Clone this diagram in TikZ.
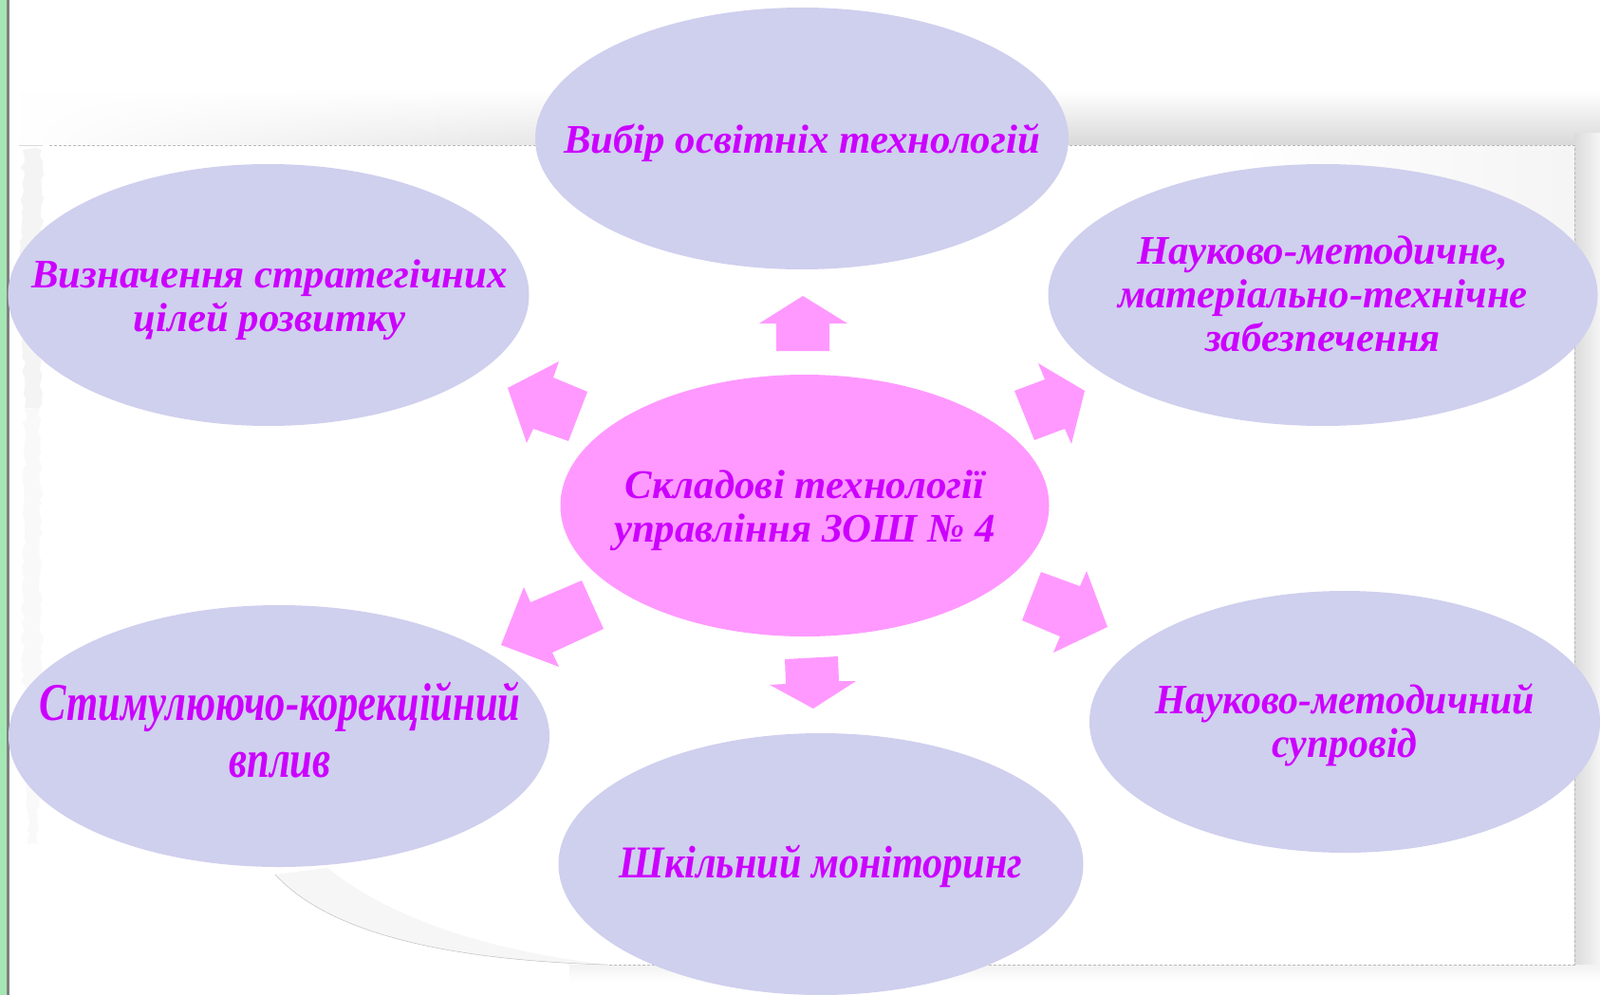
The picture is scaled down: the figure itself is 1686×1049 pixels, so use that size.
\documentclass[tikz,border=0pt]{standalone}
\usepackage{fontspec}
\setmainfont{Liberation Serif}
\newfontfamily\condA{Liberation Serif}[FakeStretch=0.76]
\newfontfamily\condB{Liberation Serif}[FakeStretch=0.88]
\newfontfamily\condC{Liberation Serif}[FakeStretch=0.95]
\usetikzlibrary{shapes.geometric,decorations.pathmorphing,fadings}
\definecolor{lav}{HTML}{CFCFEE}
\definecolor{pinkf}{HTML}{FF99FF}
\definecolor{txtc}{HTML}{CC00FF}
\definecolor{greenstrip}{HTML}{A6E6B4}
\definecolor{stripline}{HTML}{808080}
\begin{document}
\begin{tikzpicture}[x=1pt,y=-1pt,
  ell/.style={ellipse, fill=lav, draw=none, inner sep=0pt},
  ctr/.style={ellipse, fill=pinkf, draw=none, inner sep=0pt},
  lbl/.style={text=txtc, align=center, inner sep=0pt, anchor=base,
     font=\bfseries\itshape\fontsize{42.8}{46}\selectfont},
  barrow/.style={fill=pinkf, draw=none},
  paperedge/.style={draw=gray!55, line width=0.8pt, dash pattern=on 3pt off 2pt}]
\useasboundingbox (0,0) rectangle (1686,1049);
\fill[white] (0,0) rectangle (1686,1049);
% shadow of the sheet
\shade[top color=white, bottom color=gray!30] (20,95) rectangle (1686,153);
\fill[white, path fading=east] (20,95) rectangle (900,153);
\shade[left color=gray!28, right color=gray!8] (1659,140) rectangle (1686,1030);
\shade[top color=gray!10, bottom color=white] (600,1017) rectangle (1686,1035);
% sheet
\fill[white] (45,153) rectangle (1659,1017);
\shade[left color=white, right color=gray!8] (1300,153) rectangle (1659,260);
% torn left edge
\fill[gray!9, decorate, decoration={random steps, segment length=6pt, amplitude=2.5pt}]
  (24,158) -- (22,300) -- (26,430) -- (42,430) -- (46,300) -- (44,158) -- cycle;
\fill[gray!5, decorate, decoration={random steps, segment length=6pt, amplitude=2.5pt}]
  (26,430) -- (24,700) -- (30,890) -- (40,890) -- (44,700) -- (42,430) -- cycle;
% dashed sheet border
\draw[paperedge] (52,153) -- (1659,153) -- (1659,1017) -- (640,1017);
% curled corner
\fill[gray!7] (290,922) .. controls (345,982) and (465,1012) .. (640,1017)
   .. controls (530,1004) and (420,975) .. (345,915) -- cycle;
\draw[gray!50, line width=0.5pt] (290,922) .. controls (345,982) and (465,1012) .. (640,1017);
% left strip
\fill[greenstrip] (0,0) rectangle (7,1049);
\fill[stripline] (7,0) rectangle (10,1049);
% ellipses
\node[ell, minimum width=562pt, minimum height=276pt] (etop) at (845,146) {};
\node[ell, minimum width=549pt, minimum height=276pt] (eleft) at (283,311) {};
\node[ell, minimum width=579pt, minimum height=276pt] (eright) at (1394,311) {};
\node[ctr, minimum width=515pt, minimum height=276pt] (ecenter) at (848,533) {};
\node[ell, minimum width=570pt, minimum height=276pt] (elb) at (294,776) {};
\node[ell, minimum width=553pt, minimum height=276pt] (ebot) at (865,911) {};
\node[ell, minimum width=538pt, minimum height=276pt] (erb) at (1417,761) {};
% block arrows
\fill[barrow] (818,370) -- (818,341) -- (800,341) -- (846,312) -- (893,341) -- (874,341) -- (874,370) -- cycle;
\fill[barrow] (535,409) -- (589,381) -- (583,398) -- (619,413) -- (599,465) -- (562,452) -- (555,467) -- cycle;
\fill[barrow] (1143,412) -- (1129,468) -- (1122,452) -- (1090,464) -- (1069,412) -- (1101,400) -- (1094,383) -- cycle;
\fill[barrow] (528,680) -- (552,619) -- (559,635) -- (613,612) -- (636,663) -- (582,688) -- (589,703) -- cycle;
\fill[barrow] (827,695) -- (883,692) -- (884,718) -- (902,718) -- (857,747) -- (811,722) -- (828,721) -- cycle;
\fill[barrow] (1167,661) -- (1145,602) -- (1138,618) -- (1097,603) -- (1077,654) -- (1117,671) -- (1110,688) -- cycle;
% texts (anchor base = baseline of last line)
\node[lbl] (ttop) at (845,161) {Вибір освітніх технологій};
\node[lbl] (tleft) at (284,349) {Визначення стратегічних\\цілей розвитку};
\node[lbl] (tright) at (1394,370) {Науково-методичне,\\матеріально-технічне\\забезпечення};
\node[lbl] (tcenter) at (848,571) {Складові технології\\управління ЗОШ № 4};
\node[lbl, font=\condA\bfseries\itshape\fontsize{56}{60}\selectfont] (tlb) at (295,819) {Стимулюючо-корекційний\\вплив};
\node[lbl, font=\condB\bfseries\itshape\fontsize{48}{50}\selectfont] (tbot) at (865,925) {Шкільний моніторинг};
\node[lbl, font=\condC\bfseries\itshape\fontsize{44}{46}\selectfont] (trb) at (1417,798) {Науково-методичний\\супровід};
\end{tikzpicture}
\end{document}
